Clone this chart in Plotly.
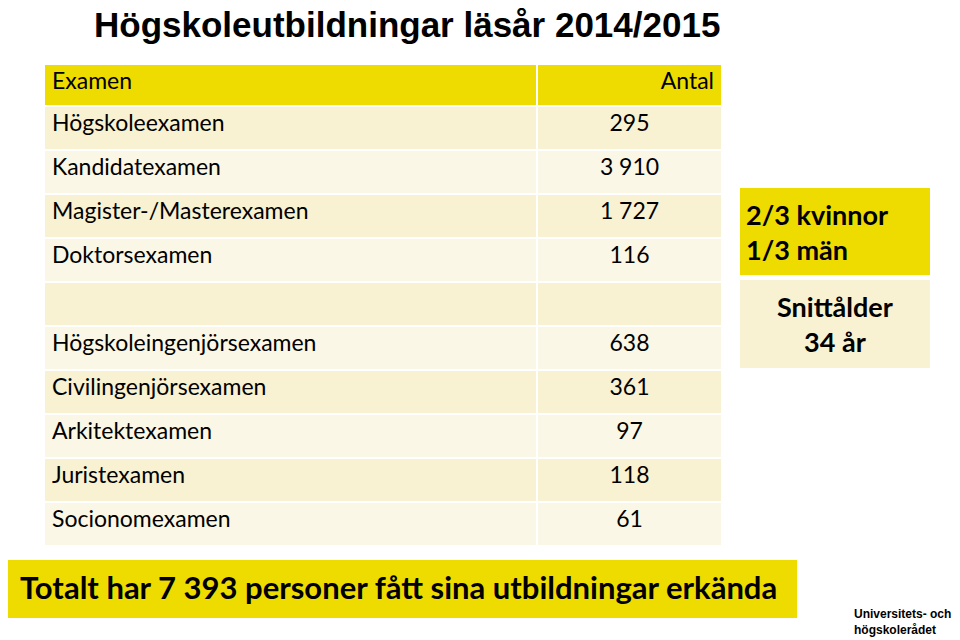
import plotly.graph_objects as go

# === Data ===
examen = ["Högskoleexamen", "Kandidatexamen", "Magister-/Masterexamen", "Doktorsexamen", "",
          "Högskoleingenjörsexamen", "Civilingenjörsexamen", "Arkitektexamen", "Juristexamen",
          "Socionomexamen"]
antal = ["295", "3 910", "1 727", "116", "", "638", "361", "97", "118", "61"]
header = ["Examen", "Antal"]
title = "Högskoleutbildningar läsår 2014/2015"
gender_text = "2/3 kvinnor<br>1/3 män"
age_text = "Snittålder<br>34 år"
total_text = "Totalt har 7 393 personer fått sina utbildningar erkända"

W, H = 960, 640
OFF = 8  # page body margin
YELLOW = "#EEDB00"
CREAM_A = "#F8F1D2"
CREAM_B = "#FBF7E7"
FONT = "Lato"


def fx(x):
    return (x - OFF) / W


def fy(y):
    return 1 - (y - OFF) / H


def px(x0, y0, x1, y1):
    return dict(x0=fx(x0), x1=fx(x1), y0=fy(y1), y1=fy(y0))


fills = [CREAM_A if i % 2 == 0 else CREAM_B for i in range(len(examen))]

fig = go.Figure(go.Table(
    domain=dict(x=[fx(44), fx(722)], y=[fy(548), fy(64)]),
    columnwidth=[493, 185],
    header=dict(values=header, fill_color=YELLOW, line=dict(color="white", width=2),
                align=["left", "right"], height=42,
                font=dict(family=FONT, size=23, color="black")),
    cells=dict(values=[examen, antal], fill_color=[fills, fills],
               line=dict(color="white", width=2), align=["left", "center"], height=44,
               font=dict(family=FONT, size=23, color="black")),
))

shapes = [
    dict(type="rect", xref="paper", yref="paper", fillcolor=YELLOW, line_width=0, **px(740, 188, 930, 275)),
    dict(type="rect", xref="paper", yref="paper", fillcolor=CREAM_A, line_width=0, **px(740, 280, 930, 368)),
    dict(type="rect", xref="paper", yref="paper", fillcolor=YELLOW, line_width=0, **px(5, 560, 797, 618)),
]

annotations = [
    dict(text=f"<b>{title}</b>", x=fx(92), y=fy(24), xanchor="left", yanchor="middle",
         font=dict(family="Liberation Sans", size=35, color="black")),
    dict(text=f"<b>{gender_text}</b>", x=fx(744), y=fy(232), xanchor="left", yanchor="middle",
         align="left", font=dict(family=FONT, size=27, color="black")),
    dict(text=f"<b>{age_text}</b>", x=fx(835), y=fy(324), xanchor="center", yanchor="middle",
         align="center", font=dict(family=FONT, size=27, color="black")),
    dict(text=f"<b>{total_text}</b>", x=fx(398), y=fy(587), xanchor="center", yanchor="middle",
         font=dict(family=FONT, size=31, color="black")),
    dict(text="<b>Universitets- och<br>högskolerådet</b>", x=fx(852), y=fy(622), xanchor="left",
         yanchor="middle", align="left", font=dict(family="Liberation Sans", size=12, color="black")),
]
for a in annotations:
    a.update(xref="paper", yref="paper", showarrow=False)

fig.update_layout(width=W, height=H, margin=dict(l=0, r=0, t=0, b=0),
                  paper_bgcolor="white", plot_bgcolor="white",
                  shapes=shapes, annotations=annotations)

fig.write_html("out.html")
